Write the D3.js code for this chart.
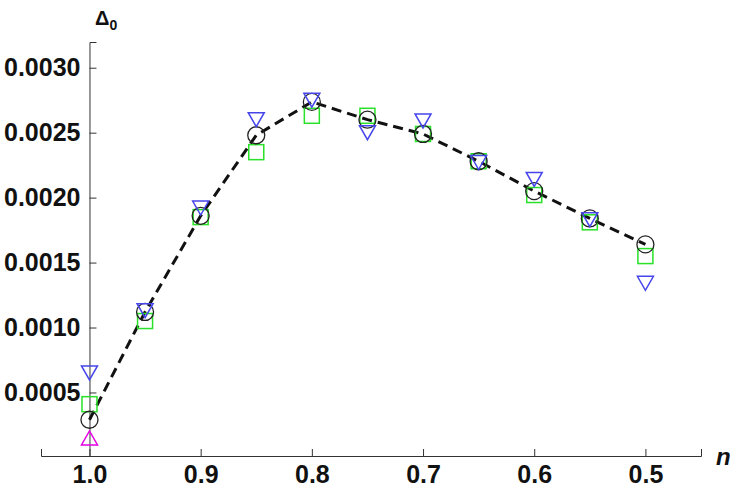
<!DOCTYPE html>
<html>
<head>
<meta charset="utf-8">
<script src="https://cdn.jsdelivr.net/npm/d3@7"></script>
<style>
body { margin: 0; background: #fff; }
svg text { font-family: "Liberation Sans", Arial, sans-serif; font-weight: bold; }
</style>
</head>
<body>
<script>
// n values and Delta_0 for each series
var nVals      = [1.0, 0.95, 0.9, 0.85, 0.8, 0.75, 0.7, 0.65, 0.6, 0.55, 0.5];
var circleVals = [0.00029, 0.00112, 0.00186, 0.00248, 0.002737, 0.0026, 0.00249, 0.00228, 0.00205, 0.00184, 0.00164];
var squareVals = [0.00041, 0.00105, 0.00185, 0.00235, 0.00263, 0.00263, 0.00249, 0.00228, 0.00202, 0.00181, 0.00155];
var triVals    = [0.00065, 0.00113, 0.00192, 0.0026, 0.00275, 0.0025, 0.00259, 0.00227, 0.00214, 0.00183, 0.00134];
var magN = [1.0];
var magVals = [0.00015];

var xMajor = [1.0, 0.9, 0.8, 0.7, 0.6, 0.5];
var xMinor = d3.range(23, 52).map(function(i) { return i / 50; }).reverse(); // 0.46..1.04 step 0.02
var yMajor = [0.0005, 0.0010, 0.0015, 0.0020, 0.0025, 0.0030];
var yMinor = d3.range(1, 33).map(function(i) { return i / 10000; });

var W = 734, H = 498;

var svg = d3.select('body')
		.append('svg')
		.attr('width', W)
		.attr('height', H);

var x = d3.scaleLinear()
	.domain([1.0436, 0.45])
	.range([41, 701]);

var y = d3.scaleLinear()
	.domain([0.000011, 0.003198])
	.range([456, 42]);

var axisColor = '#333';

// x axis (ticks pointing up)
var gx = svg.append('g').attr('transform', 'translate(0,' + y.range()[0] + ')');
gx.call(d3.axisBottom(x).tickValues(xMinor).tickSize(-3.5).tickFormat(''));
gx.call(d3.axisBottom(x).tickValues(xMajor).tickSize(-7).tickPadding(8)
	.tickFormat(d3.format('.1f')));

// y axis at n = 1.0 (ticks pointing right)
var gy = svg.append('g').attr('transform', 'translate(' + x(1.0) + ',0)');
gy.call(d3.axisLeft(y).tickValues(yMinor).tickSize(-4.5).tickFormat(''));
gy.call(d3.axisLeft(y).tickValues(yMajor).tickSize(-7).tickPadding(9)
	.tickFormat(d3.format('.4f')));

svg.selectAll('.domain').attr('stroke', axisColor);
svg.selectAll('.tick line').attr('stroke', axisColor);
svg.selectAll('.tick text')
	.attr('fill', '#111')
	.style('font-size', '25px');
gx.selectAll('.tick text').attr('dy', '0.75em');

// axis labels
var lab = svg.append('text')
	.attr('x', 95)
	.attr('y', 25)
	.style('font-size', '20px')
	.attr('fill', '#111');
lab.append('tspan').text('Δ');
lab.append('tspan').attr('dy', 5).style('font-size', '14px').text('0');

svg.append('text')
	.attr('x', 716)
	.attr('y', 465)
	.style('font-size', '24px')
	.style('font-style', 'italic')
	.attr('fill', '#111')
	.text('n');

// dashed line through circles
var line = d3.line()
	.x(function(d) { return x(d[0]); })
	.y(function(d) { return y(d[1]); });

svg.append('path')
	.datum(d3.zip(nVals, circleVals))
	.attr('d', line)
	.attr('fill', 'none')
	.attr('stroke', '#111')
	.attr('stroke-width', 3)
	.attr('stroke-dasharray', '10,6');

// green squares
var s = 7.5;
svg.selectAll('rect.sq')
	.data(d3.zip(nVals, squareVals))
	.enter().append('rect')
	.attr('class', 'sq')
	.attr('x', function(d) { return x(d[0]) - s; })
	.attr('y', function(d) { return y(d[1]) - s; })
	.attr('width', 2 * s)
	.attr('height', 2 * s)
	.attr('fill', 'none')
	.attr('stroke', 'rgb(40,225,40)')
	.attr('stroke-width', 1.5);

// black circles
svg.selectAll('circle.c')
	.data(d3.zip(nVals, circleVals))
	.enter().append('circle')
	.attr('class', 'c')
	.attr('cx', function(d) { return x(d[0]); })
	.attr('cy', function(d) { return y(d[1]); })
	.attr('r', 8.5)
	.attr('fill', 'none')
	.attr('stroke', '#222')
	.attr('stroke-width', 1.3);

// triangles
function tri(cx, cy, down) {
	var h = 14, w = 16;
	var k = down ? 1 : -1;
	return 'M' + (cx - w / 2) + ',' + (cy - k * h / 2) +
		'L' + (cx + w / 2) + ',' + (cy - k * h / 2) +
		'L' + cx + ',' + (cy + k * h / 2) + 'Z';
}

svg.selectAll('path.tri')
	.data(d3.zip(nVals, triVals))
	.enter().append('path')
	.attr('class', 'tri')
	.attr('d', function(d) { return tri(x(d[0]), y(d[1]), true); })
	.attr('fill', 'none')
	.attr('stroke', 'rgb(70,70,235)')
	.attr('stroke-width', 1.5);

svg.selectAll('path.mag')
	.data(d3.zip(magN, magVals))
	.enter().append('path')
	.attr('class', 'mag')
	.attr('d', function(d) { return tri(x(d[0]), y(d[1]), false); })
	.attr('fill', 'none')
	.attr('stroke', 'rgb(230,0,230)')
	.attr('stroke-width', 1.5);
</script>
</body>
</html>
